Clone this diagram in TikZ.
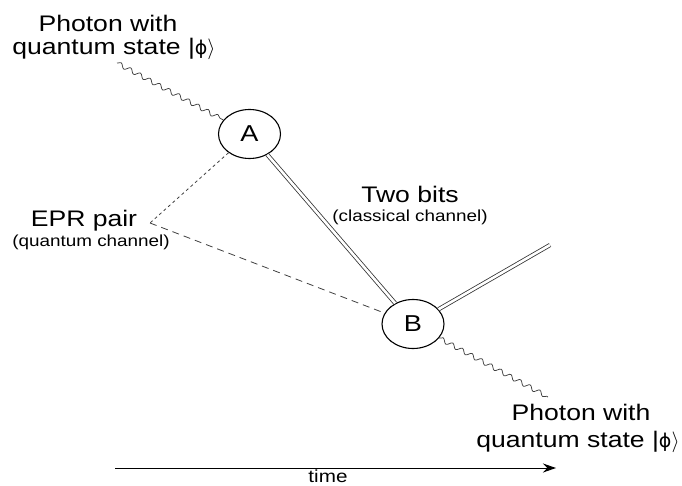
\documentclass[tikz,border=0pt]{standalone}
\usepackage{fontspec}
\setmainfont{Liberation Sans}[FakeStretch=1.18]
\newfontfamily\symfont{DejaVu Sans}[FakeStretch=1.0]
\usetikzlibrary{shapes.geometric,decorations.pathmorphing,arrows.meta}
\newcommand{\ketphi}{|{\symfont\fontsize{19}{19}\selectfont ϕ}$\rangle$}
\begin{document}
\begin{tikzpicture}[x=1pt,y=-1pt,
  party/.style={draw,ellipse,line width=1.1pt,minimum width=62pt,minimum height=49pt,inner sep=0pt,font=\fontsize{23}{23}\selectfont},
  bigtext/.style={align=center,font=\fontsize{22.5}{23}\selectfont,inner sep=0pt},
  smalltext/.style={align=center,font=\fontsize{16}{18}\selectfont,inner sep=0pt},
  photon/.style={decorate,decoration={snake,segment length=11pt,amplitude=2.2pt},line width=0.75pt,black!75},
  classical/.style={double distance=2.6pt,line width=0.8pt,black!80},
  quantum/.style={line width=0.8pt,black!75}]
\useasboundingbox (0,0) rectangle (682,486);

\node[party] (A) at (249.5,134) {A};
\node[party] (B) at (413,324) {B};

\node[bigtext,anchor=base] (top1) at (108,32) {Photon with};
\node[bigtext,anchor=base] (top2) at (114,55) {quantum state \ketphi};
\node[bigtext,anchor=base] (bot1) at (581,420) {Photon with};
\node[bigtext,anchor=base] (bot2) at (578,447) {quantum state \ketphi};

\node[bigtext,anchor=base] (epr1) at (84,227) {EPR pair};
\node[smalltext,anchor=base] (epr2) at (91,247) {(quantum channel)};
\node[bigtext,anchor=base] (two1) at (410,203) {Two bits};
\node[smalltext,anchor=base] (two2) at (410,222) {(classical channel)};

\coordinate (pin) at (117,63);
\coordinate (pout) at (548,397);
\coordinate (epr) at (150,223);
\coordinate (cout) at (550,245);
\coordinate (t0) at (115,468);
\coordinate (t1) at (556,468);

\draw[photon] (pin) -- (A);
\draw[photon] (B) -- (pout);
\draw[quantum,dash pattern=on 3pt off 3pt] (A) -- (epr);
\draw[quantum,dash pattern=on 7pt off 5pt] (epr) -- (B);
\draw[classical] (A) -- (B);
\draw[classical] (B) -- (cout);

\draw[line width=1pt,-{Stealth[length=13pt,width=9pt]}] (t0) -- (t1);
\node[smalltext,anchor=base,font=\fontsize{17.5}{18}\selectfont] (time) at (328,482) {time};
\end{tikzpicture}
\end{document}
